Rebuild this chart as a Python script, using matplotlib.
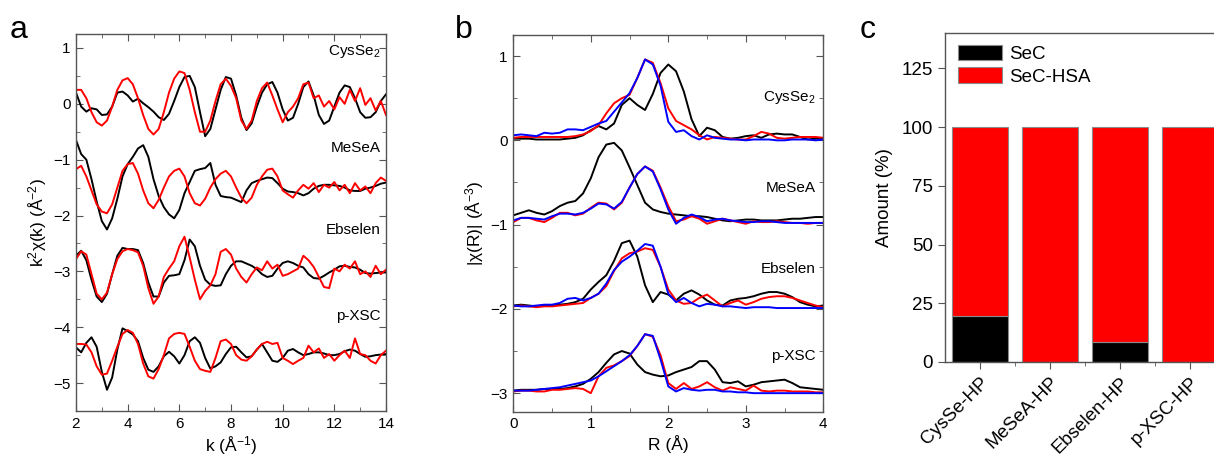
import numpy as np
import matplotlib
matplotlib.use("Agg")
import matplotlib.pyplot as plt
from matplotlib.ticker import MultipleLocator

plt.rcParams['font.family'] = ['Liberation Sans', 'DejaVu Sans']
plt.rcParams['mathtext.fontset'] = 'custom'
plt.rcParams['mathtext.rm'] = 'Liberation Sans'
plt.rcParams['mathtext.it'] = 'Liberation Sans:italic'
plt.rcParams['mathtext.default'] = 'regular'

# ---------------- Panel a data (k-space, offset stacked) ----------------
k_vals = [round(2.0 + 0.2 * i, 1) for i in range(61)]

cysse2_exp_k = [0.25, 0.25, 0.1, -0.15, -0.33, -0.39, -0.3, -0.05, 0.25, 0.42,
                0.46, 0.35, 0.1, -0.2, -0.45, -0.55, -0.45, -0.15, 0.2, 0.45,
                0.58, 0.55, 0.25, -0.15, -0.5, -0.5, -0.3, 0.05, 0.35, 0.45,
                0.32, 0.1, -0.3, -0.45, -0.3, 0.05, 0.28, 0.38, 0.15, -0.1,
                -0.33, -0.15, -0.05, 0.1, 0.35, 0.38, 0.1, 0.15, -0.05, 0.05,
                -0.1, 0.12, 0.0, 0.25, 0.05, 0.28, -0.02, 0.1, -0.12, 0.05, -0.2]
cysse2_ref_k = [0.2, -0.05, -0.14, -0.08, -0.1, -0.2, -0.19, -0.05, 0.2, 0.22,
                0.15, 0.04, 0.09, 0.01, -0.06, -0.14, -0.24, -0.29, -0.18, 0.05,
                0.3, 0.48, 0.5, 0.3, -0.15, -0.58, -0.45, -0.1, 0.25, 0.48,
                0.45, 0.15, -0.25, -0.47, -0.35, -0.05, 0.2, 0.35, 0.39, 0.2,
                -0.1, -0.3, -0.25, 0.0, 0.3, 0.4, 0.15, -0.2, -0.36, -0.3,
                -0.05, 0.2, 0.33, 0.3, 0.1, -0.15, -0.25, -0.24, -0.15, 0.05, 0.17]

mesea_exp_k = [-1.17, -1.11, -1.3, -1.55, -1.8, -1.93, -1.96, -1.8, -1.5, -1.2,
               -1.08, -1.06, -1.25, -1.55, -1.78, -1.87, -1.72, -1.5, -1.3, -1.2,
               -1.16, -1.3, -1.6, -1.78, -1.82, -1.7, -1.5, -1.35, -1.25, -1.2,
               -1.3, -1.5, -1.68, -1.78, -1.68, -1.45, -1.3, -1.18, -1.16, -1.3,
               -1.55, -1.62, -1.68, -1.55, -1.45, -1.52, -1.42, -1.58, -1.45, -1.5,
               -1.4, -1.55, -1.45, -1.6, -1.42, -1.55, -1.48, -1.6, -1.42, -1.32, -1.38]
mesea_ref_k = [-0.65, -0.9, -1.0, -1.35, -1.75, -2.1, -2.25, -2.05, -1.7, -1.3,
               -1.08, -0.95, -0.8, -0.74, -0.95, -1.35, -1.65, -1.85, -1.98, -2.05,
               -1.9, -1.6, -1.4, -1.2, -1.17, -1.15, -1.06, -1.45, -1.65, -1.67,
               -1.68, -1.72, -1.76, -1.55, -1.42, -1.38, -1.35, -1.32, -1.33, -1.42,
               -1.52, -1.57, -1.58, -1.6, -1.64, -1.6, -1.52, -1.47, -1.45, -1.45,
               -1.46, -1.47, -1.5, -1.55, -1.56, -1.56, -1.52, -1.5, -1.47, -1.43, -1.41]

ebselen_exp_k = [-2.78, -2.64, -2.7, -3.05, -3.4, -3.5, -3.38, -3.05, -2.78, -2.64,
                 -2.6, -2.62, -2.66, -2.9, -3.3, -3.58, -3.45, -3.1, -2.95, -2.82,
                 -2.55, -2.38, -2.75, -3.15, -3.5, -3.35, -3.25, -3.05, -2.65, -2.6,
                 -2.7, -2.95, -3.1, -3.2, -3.05, -2.93, -2.98, -2.82, -2.95, -2.88,
                 -3.08, -3.05, -3.0, -2.95, -2.72, -2.8, -2.92, -3.1, -3.28, -3.3,
                 -2.95, -3.0, -2.88, -2.95, -2.82, -3.05, -3.0, -3.1, -2.9, -3.05, -2.97]
ebselen_ref_k = [-2.72, -2.63, -2.8, -3.15, -3.45, -3.55, -3.4, -3.05, -2.72, -2.58,
                 -2.6, -2.6, -2.62, -2.85, -3.2, -3.45, -3.45, -3.2, -3.08, -3.07,
                 -3.05, -2.8, -2.43, -2.55, -2.9, -3.15, -3.24, -3.26, -3.25, -3.05,
                 -2.9, -2.82, -2.82, -2.86, -2.9, -2.96, -3.05, -3.1, -3.08, -2.95,
                 -2.85, -2.82, -2.85, -2.9, -2.93, -3.05, -3.12, -3.13, -3.08, -3.02,
                 -2.97, -2.91, -2.9, -2.92, -2.93, -2.97, -3.03, -3.04, -3.03, -3.02, -3.02]

pxsc_exp_k = [-4.3, -4.3, -4.31, -4.45, -4.7, -4.85, -4.83, -4.6, -4.35, -4.12,
              -4.05, -4.1, -4.3, -4.65, -4.88, -4.92, -4.75, -4.5, -4.2, -4.12,
              -4.1, -4.12, -4.35, -4.6, -4.75, -4.78, -4.8, -4.55, -4.25, -4.22,
              -4.3, -4.5, -4.58, -4.6, -4.52, -4.4, -4.3, -4.26, -4.3, -4.28,
              -4.55, -4.6, -4.66, -4.6, -4.55, -4.33, -4.45, -4.38, -4.55, -4.48,
              -4.6, -4.5, -4.42, -4.55, -4.2, -4.48, -4.5, -4.6, -4.65, -4.5, -4.42]
pxsc_ref_k = [-4.36, -4.45, -4.28, -4.18, -4.35, -4.8, -5.12, -4.9, -4.4, -4.02,
              -4.07, -4.13, -4.25, -4.55, -4.76, -4.8, -4.7, -4.52, -4.44, -4.52,
              -4.65, -4.5, -4.25, -4.18, -4.28, -4.55, -4.74, -4.7, -4.63, -4.48,
              -4.36, -4.35, -4.45, -4.54, -4.52, -4.4, -4.3, -4.45, -4.6, -4.62,
              -4.55, -4.42, -4.39, -4.45, -4.5, -4.48, -4.45, -4.45, -4.47, -4.5,
              -4.5, -4.48, -4.43, -4.4, -4.42, -4.48, -4.53, -4.52, -4.5, -4.49, -4.48]

# ---------------- Panel b data (R-space, offset stacked) ----------------
r_vals = [round(0.1 * i, 1) for i in range(41)]

cysse2_ref_r = [0.02, 0.02, 0.02, 0.01, 0.01, 0.01, 0.01, 0.02, 0.03, 0.06,
                0.12, 0.17, 0.13, 0.2, 0.42, 0.5, 0.42, 0.36, 0.55, 0.8,
                0.9, 0.82, 0.58, 0.25, 0.05, 0.15, 0.12, 0.04, 0.02, 0.03,
                0.05, 0.06, 0.03, 0.07, 0.08, 0.07, 0.07, 0.04, 0.01, 0.02, 0.03]
cysse2_exp_r = [0.03, 0.04, 0.04, 0.04, 0.04, 0.04, 0.04, 0.04, 0.05, 0.07,
                0.11, 0.18, 0.32, 0.44, 0.5, 0.54, 0.74, 0.96, 0.92, 0.68,
                0.38, 0.23, 0.18, 0.13, 0.06, 0.01, 0.04, 0.03, 0.02, 0.01,
                0.01, 0.05, 0.1, 0.08, 0.03, 0.02, 0.03, 0.04, 0.04, 0.04, 0.03]
cysse2_fit_r = [0.06, 0.07, 0.06, 0.05, 0.09, 0.08, 0.09, 0.13, 0.13, 0.12,
                0.16, 0.2, 0.23, 0.34, 0.45, 0.56, 0.74, 0.96, 0.9, 0.65,
                0.22, 0.1, 0.12, 0.05, 0.01, 0.06, 0.03, 0.02, 0.01, 0.01,
                0.0, 0.01, 0.01, 0.01, 0.0, 0.0, 0.01, 0.01, 0.01, 0.0, 0.01]

mesea_ref_r = [-0.89, -0.86, -0.83, -0.86, -0.88, -0.84, -0.78, -0.74, -0.72, -0.63,
               -0.45, -0.2, -0.05, -0.03, -0.12, -0.32, -0.53, -0.74, -0.82, -0.85,
               -0.87, -0.88, -0.89, -0.9, -0.9, -0.91, -0.93, -0.95, -0.96, -0.95,
               -0.94, -0.94, -0.95, -0.95, -0.95, -0.94, -0.93, -0.93, -0.92, -0.91, -0.91]
mesea_exp_r = [-0.97, -0.92, -0.92, -0.95, -0.97, -0.92, -0.86, -0.86, -0.89, -0.87,
               -0.8, -0.74, -0.75, -0.82, -0.74, -0.56, -0.4, -0.31, -0.36, -0.56,
               -0.78, -0.96, -0.94, -0.9, -0.93, -0.99, -0.96, -0.93, -0.95, -0.97,
               -0.99, -0.96, -0.97, -0.97, -0.96, -0.97, -0.98, -0.98, -0.99, -0.98, -0.98]
mesea_fit_r = [-0.95, -0.92, -0.92, -0.93, -0.94, -0.9, -0.87, -0.87, -0.88, -0.86,
               -0.81, -0.75, -0.76, -0.81, -0.73, -0.56, -0.4, -0.31, -0.37, -0.58,
               -0.82, -0.99, -0.92, -0.88, -0.91, -0.96, -0.94, -0.93, -0.95, -0.96,
               -0.97, -0.97, -0.96, -0.96, -0.97, -0.98, -0.98, -0.98, -0.98, -0.98, -0.98]

ebselen_ref_r = [-1.96, -1.95, -1.96, -1.97, -1.96, -1.96, -1.95, -1.94, -1.92, -1.88,
                 -1.77, -1.68, -1.6, -1.43, -1.22, -1.19, -1.38, -1.72, -1.92, -1.8,
                 -1.83, -1.9, -1.82, -1.78, -1.83, -1.9, -1.95, -1.96, -1.9, -1.88,
                 -1.87, -1.85, -1.82, -1.8, -1.8, -1.82, -1.86, -1.92, -1.95, -1.97, -1.96]
ebselen_exp_r = [-1.97, -1.96, -1.97, -1.98, -1.97, -1.97, -1.96, -1.95, -1.94, -1.93,
                 -1.87, -1.82, -1.73, -1.55, -1.4, -1.34, -1.32, -1.28, -1.3, -1.5,
                 -1.77, -1.9, -1.94, -1.93, -1.87, -1.83, -1.9, -1.97, -1.93, -1.9,
                 -1.95, -1.92, -1.88, -1.86, -1.85, -1.85, -1.87, -1.9, -1.93, -1.96, -1.98]
ebselen_fit_r = [-1.96, -1.97, -1.97, -1.96, -1.95, -1.95, -1.93, -1.88, -1.87, -1.9,
                 -1.87, -1.82, -1.7, -1.54, -1.44, -1.38, -1.31, -1.23, -1.25, -1.5,
                 -1.82, -1.92, -1.87, -1.93, -1.97, -1.94, -1.95, -1.97, -1.97, -1.98,
                 -1.99, -1.98, -1.98, -1.98, -1.99, -1.99, -1.99, -1.99, -1.99, -1.99, -1.99]

pxsc_ref_r = [-2.97, -2.96, -2.96, -2.96, -2.95, -2.95, -2.95, -2.94, -2.92, -2.89,
              -2.83, -2.75, -2.64, -2.54, -2.5, -2.53, -2.66, -2.75, -2.78, -2.8,
              -2.79, -2.75, -2.72, -2.69, -2.62, -2.62, -2.72, -2.87, -2.88, -2.86,
              -2.92, -2.9, -2.87, -2.86, -2.85, -2.84, -2.88, -2.93, -2.94, -2.95, -2.96]
pxsc_exp_r = [-2.98, -2.97, -2.97, -2.98, -2.98, -2.96, -2.96, -2.95, -2.94, -2.95,
              -3.0, -2.8, -2.7, -2.67, -2.62, -2.56, -2.44, -2.3, -2.33, -2.55,
              -2.88, -2.95, -2.88, -2.95, -2.92, -2.87, -2.93, -2.97, -2.93, -2.95,
              -2.97, -2.91, -2.97, -2.98, -2.97, -2.97, -2.98, -2.98, -2.98, -2.99, -2.99]
pxsc_fit_r = [-2.97, -2.97, -2.97, -2.96, -2.95, -2.94, -2.93, -2.91, -2.89, -2.87,
              -2.85, -2.8, -2.74, -2.68, -2.62, -2.55, -2.44, -2.3, -2.32, -2.6,
              -2.92, -2.98, -2.94, -2.96, -2.97, -2.96, -2.96, -2.98, -2.98, -2.99,
              -2.99, -3.0, -3.0, -3.0, -3.0, -3.0, -3.0, -3.0, -3.0, -3.0, -3.0]

sample_names = ['CysSe$_2$', 'MeSeA', 'Ebselen', 'p-XSC']

# ---------------- Panel c data ----------------
bar_categories = ['CysSe-HP', 'MeSeA-HP', 'Ebselen-HP', 'p-XSC-HP']
sec_amount = [19.5, 0.0, 8.5, 0.0]
sec_hsa_amount = [80.5, 100.0, 91.5, 100.0]

# ---------------- Figure ----------------
fig = plt.figure(figsize=(12.14, 4.58), dpi=100)
SPINE = '#555555'
RED = '#FF0000'
BLUE = '#0000FF'
LW = 1.4


def style_inward(ax):
    for s in ax.spines.values():
        s.set_color(SPINE)
        s.set_linewidth(1.0)
    ax.tick_params(which='both', direction='in', top=True, right=True,
                   color=SPINE, labelsize=11, pad=4)
    ax.tick_params(which='major', length=5)
    ax.tick_params(which='minor', length=3)


# Panel a
axa = fig.add_axes([76 / 1214, 1 - 411 / 458, 310 / 1214, 377 / 458])
for exp, ref in [(cysse2_exp_k, cysse2_ref_k), (mesea_exp_k, mesea_ref_k),
                 (ebselen_exp_k, ebselen_ref_k), (pxsc_exp_k, pxsc_ref_k)]:
    axa.plot(k_vals, ref, color='black', lw=LW)
    axa.plot(k_vals, exp, color=RED, lw=LW)
axa.set_xlim(2, 14)
axa.set_ylim(-5.5, 1.25)
axa.xaxis.set_major_locator(MultipleLocator(2))
axa.xaxis.set_minor_locator(MultipleLocator(1))
axa.yaxis.set_major_locator(MultipleLocator(1))
axa.yaxis.set_minor_locator(MultipleLocator(0.5))
style_inward(axa)
axa.set_xlabel('k (Å$^{-1}$)', fontsize=12.5, labelpad=3)
axa.set_ylabel('k$^{2}$χ(k) (Å$^{-2}$)', fontsize=12.5, labelpad=3)
for name, yv in zip(sample_names, [0.93, -0.8, -2.26, -3.8]):
    axa.text(13.8, yv, name, ha='right', va='center', fontsize=11)

# Panel b
axb = fig.add_axes([513.3 / 1214, 1 - 411.7 / 458, 310 / 1214, 376.7 / 458])
for ref, exp, fit in [(cysse2_ref_r, cysse2_exp_r, cysse2_fit_r),
                      (mesea_ref_r, mesea_exp_r, mesea_fit_r),
                      (ebselen_ref_r, ebselen_exp_r, ebselen_fit_r),
                      (pxsc_ref_r, pxsc_exp_r, pxsc_fit_r)]:
    axb.plot(r_vals, ref, color='black', lw=LW)
    axb.plot(r_vals, exp, color=RED, lw=LW)
    axb.plot(r_vals, fit, color=BLUE, lw=LW)
axb.set_xlim(0, 4)
axb.set_ylim(-3.22, 1.25)
axb.xaxis.set_major_locator(MultipleLocator(1))
axb.xaxis.set_minor_locator(MultipleLocator(0.5))
axb.yaxis.set_major_locator(MultipleLocator(1))
axb.yaxis.set_minor_locator(MultipleLocator(0.5))
style_inward(axb)
axb.set_xlabel('R (Å)', fontsize=12.5, labelpad=3)
axb.set_ylabel('|χ(R)| (Å$^{-3}$)', fontsize=12.5, labelpad=3)
for name, yv in zip(sample_names, [0.51, -0.56, -1.53, -2.56]):
    axb.text(3.9, yv, name, ha='right', va='center', fontsize=11)

# Panel c
left_c = 945 / 1214
axc = fig.add_axes([left_c, 1 - 362 / 458, (1224.7 - 945) / 1214, 329 / 458])
xpos = np.arange(1, len(bar_categories) + 1)
axc.bar(xpos, sec_amount, width=0.8, color='black', edgecolor='#8a8a8a',
        linewidth=0.8, label='SeC')
axc.bar(xpos, sec_hsa_amount, width=0.8, bottom=sec_amount, color=RED,
        edgecolor='#8a8a8a', linewidth=0.8, label='SeC-HSA')
axc.set_xlim(0.5, 4.5)
axc.set_ylim(0, 140)
axc.yaxis.set_major_locator(MultipleLocator(25))
axc.set_xticks(xpos)
axc.set_xticks(np.arange(1.5, 5.0, 1.0), minor=True)
axc.set_xticklabels(bar_categories, rotation=45, ha='right',
                    rotation_mode='anchor', fontsize=13.5)
for s in axc.spines.values():
    s.set_color(SPINE)
    s.set_linewidth(1.0)
axc.tick_params(which='both', direction='out', color=SPINE)
axc.tick_params(axis='y', labelsize=13.5)
axc.tick_params(which='major', length=5)
axc.tick_params(which='minor', length=3)
axc.set_ylabel('Amount (%)', fontsize=13.5, labelpad=6)
axc.legend(loc='upper left', bbox_to_anchor=(0.045, 0.965), frameon=False,
           fontsize=13.5, handlelength=2.35, handleheight=0.9,
           handletextpad=0.4, labelspacing=0.25, borderpad=0.0,
           borderaxespad=0.0)

# Panel letters
fig.text(10 / 1214, 1 - 30 / 458, 'a', fontsize=23, va='center')
fig.text(455 / 1214, 1 - 30 / 458, 'b', fontsize=23, va='center')
fig.text(860 / 1214, 1 - 30 / 458, 'c', fontsize=23, va='center')

fig.savefig('out.png', dpi=100)
